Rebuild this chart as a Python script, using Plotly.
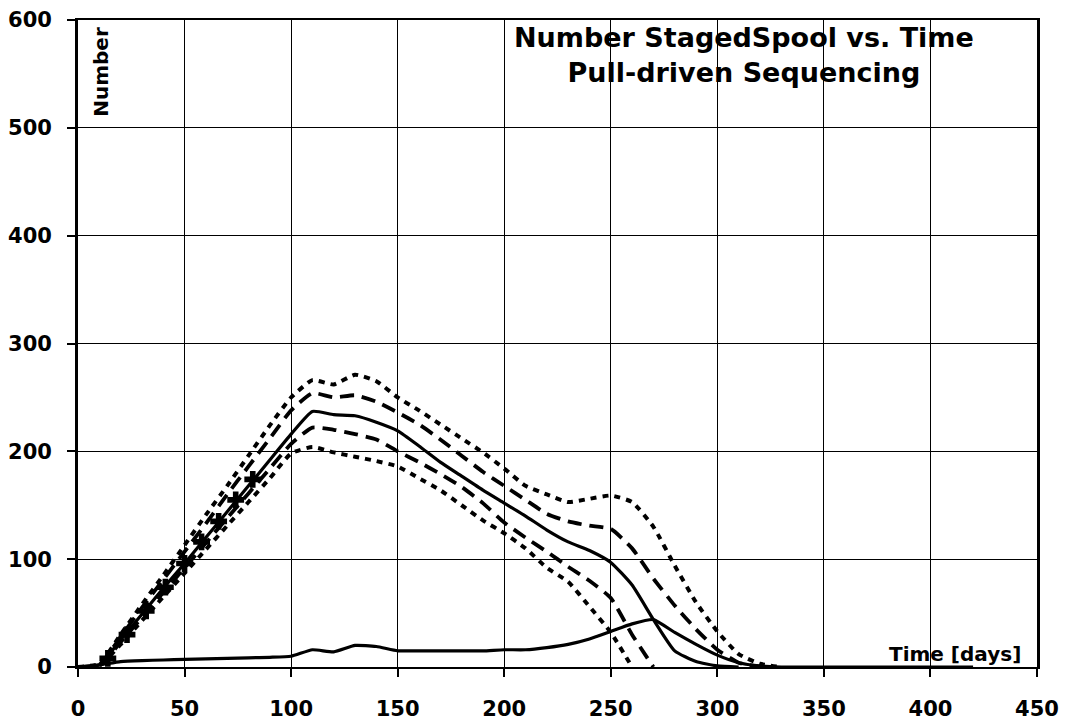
import plotly.graph_objects as go

# Time grid (days) for the five band curves
days = [0, 10, 20, 30, 40, 50, 60, 70, 80, 90, 100, 110, 120, 130, 140, 150, 160,
        170, 180, 190, 200, 210, 220, 230, 240, 250, 260, 270, 280, 290, 300, 310,
        320, 330]

# Number of staged spools: upper/lower bounds and mean
upper_dot = [0, 3, 30, 58, 85, 113, 141, 168, 196, 224, 250, 266, 262, 271, 265, 250,
             238, 225, 212, 199, 184, 168, 160, 153, 156, 159, 153, 130, 94, 60, 33,
             12, 3, 0]
upper_dash = [0, 2, 28, 55, 81, 107, 133, 160, 186, 212, 238, 254, 250, 252, 246, 236,
              225, 211, 196, 181, 168, 155, 142, 135, 131, 128, 110, 82, 57, 35, 16,
              4, 0, None]
mean_line = [0, 2, 25, 49, 73, 96, 120, 144, 168, 192, 216, 237, 234, 233, 227, 219,
             205, 190, 177, 164, 152, 140, 127, 116, 108, 97, 76, 44, 15, 5, 1, 0,
             None, None]
lower_dash = [0, 1, 23, 46, 69, 92, 115, 138, 161, 184, 207, 222, 220, 216, 211, 200,
              190, 179, 167, 152, 134, 120, 107, 93, 80, 64, 30, 0, None, None, None,
              None, None, None]
lower_dot = [0, 1, 21, 43, 65, 87, 109, 131, 153, 175, 198, 204, 199, 195, 191, 186,
             175, 164, 150, 136, 124, 110, 92, 79, 56, 32, 0, None, None, None, None,
             None, None, None]

# Low-level curve running along the bottom
days_low = [0, 10, 20, 30, 40, 50, 60, 70, 80, 90, 100, 110, 120, 130, 140, 150, 160,
            170, 180, 190, 200, 210, 220, 230, 240, 250, 260, 270, 280, 290, 300, 310,
            320, 330, 340, 350, 360, 370, 380, 390, 400, 410, 420]
low_line = [0, 2, 5, 6, 6.5, 7, 7.5, 8, 8.5, 9, 10, 16, 14, 20, 19, 15, 15, 15, 15, 15,
            16, 16, 18, 21, 26, 33, 40, 44, 32, 21, 11, 4, 1, 0, 0, 0, 0, 0, 0, 0, 0,
            0, 0]

# Sample markers along the initial ramp
marker_days = [14, 23, 32, 41, 50, 58, 66, 74, 82]
marker_vals = [8, 30, 52, 74, 96, 116, 135, 155, 174]

x_ticks = [0, 50, 100, 150, 200, 250, 300, 350, 400, 450]
y_ticks = [0, 100, 200, 300, 400, 500, 600]

FONT = "DejaVu Sans"
INK = "black"

fig = go.Figure()

band = [
    (upper_dot, "6px,6px", 4),
    (upper_dash, "14px,8px", 3.8),
    (mean_line, "solid", 3.2),
    (lower_dash, "14px,8px", 3.8),
    (lower_dot, "6px,6px", 4),
]
for vals, dash, width in band:
    fig.add_trace(go.Scatter(
        x=days, y=vals, mode="lines",
        line=dict(color=INK, width=width, dash=dash, shape="spline", smoothing=0.5),
        connectgaps=False, showlegend=False, hoverinfo="skip",
    ))

fig.add_trace(go.Scatter(
    x=days_low, y=low_line, mode="lines",
    line=dict(color=INK, width=3.2, shape="spline", smoothing=0.5),
    showlegend=False, hoverinfo="skip",
))

fig.add_trace(go.Scatter(
    x=marker_days, y=marker_vals, mode="markers",
    marker=dict(symbol="cross", size=14, color=INK, line=dict(width=0)),
    showlegend=False, hoverinfo="skip",
))

axis_common = dict(
    showgrid=True, gridcolor=INK, gridwidth=1.4,
    zeroline=False, showline=True, linecolor=INK, mirror=True,
    ticks="outside", ticklen=8, tickwidth=1.5, tickcolor=INK,
    automargin=False,
    tickfont=dict(family=FONT, size=21, color=INK, weight="bold"),
)

fig.update_xaxes(range=[0, 450], tickvals=x_ticks, linewidth=2,
                 ticklabelstandoff=14, **axis_common)
fig.update_yaxes(range=[0, 600], tickvals=y_ticks, linewidth=2.8,
                 ticklabelstandoff=11, **axis_common)

fig.update_layout(
    width=1068, height=728,
    margin=dict(l=78, r=31, t=20, b=61),
    paper_bgcolor="white", plot_bgcolor="white",
    annotations=[
        dict(text="Number StagedSpool vs. Time<br>Pull-driven Sequencing",
             xref="paper", yref="paper", x=0.6945, y=0.946,
             xanchor="center", yanchor="middle", showarrow=False,
             font=dict(family=FONT, size=27, color=INK, weight="bold")),
        dict(text="Number", xref="paper", yref="paper", x=0.024, y=0.92,
             xanchor="center", yanchor="middle", textangle=-90, showarrow=False,
             font=dict(family=FONT, size=20, color=INK, weight="bold")),
        dict(text="Time [days]", xref="paper", yref="paper", x=0.9854, y=0.02,
             xanchor="right", yanchor="middle", showarrow=False,
             font=dict(family=FONT, size=20, color=INK, weight="bold")),
    ],
)

fig.write_html("out.html")
